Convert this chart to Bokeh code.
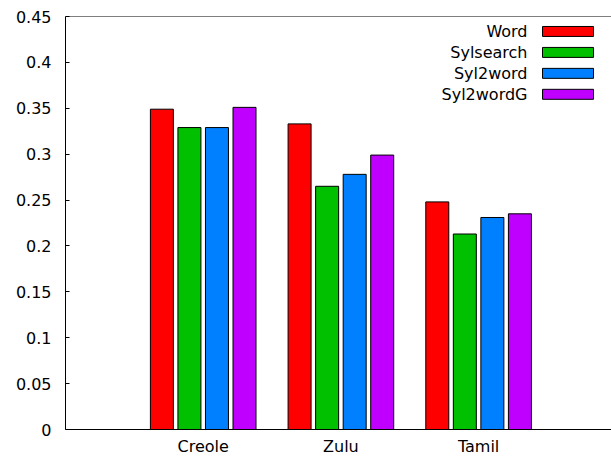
from bokeh.plotting import figure
from bokeh.models import ColumnDataSource, FixedTicker, Range1d, Span
from bokeh.core.properties import value
from bokeh.embed import file_html
from bokeh.resources import INLINE

categories = ["Creole", "Zulu", "Tamil"]
series_names = ["Word", "Sylsearch", "Syl2word", "Syl2wordG"]
word = [0.349, 0.333, 0.248]
sylsearch = [0.329, 0.265, 0.213]
syl2word = [0.329, 0.278, 0.231]
syl2wordg = [0.351, 0.299, 0.235]
y_ticks = [0, 0.05, 0.1, 0.15, 0.2, 0.25, 0.3, 0.35, 0.4, 0.45]
y_tick_labels = ["0", "0.05", "0.1", "0.15", "0.2", "0.25", "0.3", "0.35", "0.4", "0.45"]

colors = ["#ff0000", "#00c000", "#0080ff", "#c000ff"]
series = [word, sylsearch, syl2word, syl2wordg]
offsets = [-0.3, -0.1, 0.1, 0.3]
bar_w = 0.167

W, H = 611, 458
FL, FR, FT, FB = 65, 611, 16, 430
UNIT = 137.7
x0, x1 = -1.0, -1.0 + (FR - FL) / UNIT
y0, y1 = 0.0, 0.45

FONT = "DejaVu Sans"
FS = "16px"

p = figure(width=W, height=H, output_backend="svg", toolbar_location=None,
           x_range=Range1d(x0, x1), y_range=Range1d(y0, y1),
           min_border_left=FL, min_border_right=W - FR, min_border_top=FT,
           min_border_bottom=H - FB)
p.outline_line_color = None
p.grid.visible = False
p.background_fill_color = "white"
p.border_fill_color = "white"

xs = list(range(len(categories)))
for vals, col, off, name in zip(series, colors, offsets, series_names):
    src = ColumnDataSource(dict(x=[i + off for i in xs], top=vals))
    p.vbar(x="x", top="top", width=bar_w, bottom=0, source=src,
           fill_color=col, line_color="black", line_width=1)

# axes
p.yaxis.ticker = FixedTicker(ticks=y_ticks)
p.yaxis.major_label_overrides = {t: l for t, l in zip(y_ticks, y_tick_labels)}
p.yaxis.major_tick_in = 4
p.yaxis.major_tick_out = 0
p.yaxis.minor_tick_line_color = None
p.yaxis.major_label_standoff = 14
p.yaxis.major_label_text_font = FONT
p.yaxis.major_label_text_font_size = FS
p.yaxis.major_label_text_color = "black"
p.yaxis.axis_line_color = "black"

p.xaxis.ticker = FixedTicker(ticks=xs)
p.xaxis.major_label_overrides = {i: c for i, c in enumerate(categories)}
p.xaxis.major_tick_line_color = None
p.xaxis.major_tick_in = 0
p.xaxis.major_tick_out = 0
p.xaxis.minor_tick_line_color = None
p.xaxis.major_label_standoff = 7
p.xaxis.major_label_text_font = FONT
p.xaxis.major_label_text_font_size = FS
p.xaxis.major_label_text_color = "black"
p.xaxis.axis_line_color = "black"

p.add_layout(Span(location=y1, dimension="width", line_color="black", line_width=1))

# legend (top right, text left of swatch)
def px_to_x(px):
    return x0 + (px - FL) / (FR - FL) * (x1 - x0)

def py_to_y(py):
    return y0 + (FB - py) / (FB - FT) * (y1 - y0)

row_y = [py_to_y(31 + 21 * i) for i in range(len(series_names))]
half_h = 5 / (FB - FT) * (y1 - y0)
leg = ColumnDataSource(dict(
    left=[px_to_x(542)] * 4, right=[px_to_x(593)] * 4,
    top=[y + half_h for y in row_y], bottom=[y - half_h for y in row_y],
    tx=[px_to_x(527)] * 4, ty=row_y, label=series_names, color=colors))
p.quad(left="left", right="right", top="top", bottom="bottom", source=leg,
       fill_color="color", line_color="black", line_width=1)
p.text(x="tx", y="ty", text="label", source=leg, text_align="right",
       text_baseline="middle", text_font=value(FONT), text_font_size=FS,
       text_color="black")

open("out.html", "w").write(file_html(p, INLINE))
